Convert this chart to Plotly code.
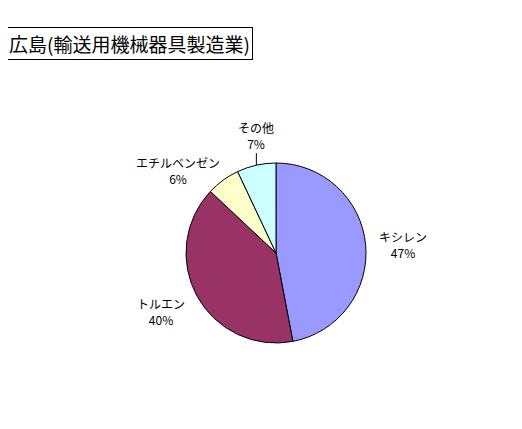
import math
import plotly.graph_objects as go

labels = ["キシレン", "トルエン", "エチルベンゼン", "その他"]
values = [47, 40, 6, 7]
colors = ["#9999FF", "#993366", "#FFFFCC", "#CCFFFF"]
title_text = "広島(輸送用機械器具製造業)"

W, H = 522, 429
OFF = 8  # page body margin
cx, cy, r = 276 - OFF, 253 - OFF, 90

def px(x):
    return (x - OFF) / W

def py(y):
    return 1 - (y - OFF) / H

fig = go.Figure(go.Pie(
    labels=labels, values=values, sort=False, direction="clockwise", rotation=0,
    marker=dict(colors=colors, line=dict(color="black", width=1)),
    textinfo="none",
    domain=dict(x=[(cx - r) / W, (cx + r) / W], y=[1 - (cy + r) / H, 1 - (cy - r) / H]),
    showlegend=False, hoverinfo="skip",
))

total = sum(values)
pcts = [round(v / total * 100) for v in values]
# label centre positions in page pixels
label_pos = [(403, 245), (161, 311), (178, 170)]
font = dict(family="Noto Sans CJK JP", size=12, color="black")
for i, (lx, ly) in enumerate(label_pos):
    fig.add_annotation(text=f"{labels[i]}<br>{pcts[i]}%", xref="paper", yref="paper",
                       x=px(lx), y=py(ly), xanchor="center", yanchor="middle",
                       showarrow=False, font=font)

# その他: leader line to slice midpoint on the edge
cum = sum(values[:3]) + values[3] / 2
ang = 2 * math.pi * cum / total
ex = cx + OFF + r * math.sin(ang)
ey = cy + OFF - r * math.cos(ang)
fig.add_annotation(text=f"{labels[3]}<br>{pcts[3]}%", xref="paper", yref="paper",
                   x=px(ex), y=py(ey), ax=0, ay=-30, showarrow=True,
                   arrowhead=0, arrowwidth=1, arrowcolor="black", standoff=0,
                   font=font)

fig.add_annotation(
    text=title_text, xref="paper", yref="paper", x=px(6), y=py(27),
    xanchor="left", yanchor="top", showarrow=False,
    font=dict(family="Noto Sans CJK JP", size=19, color="black"),
    bordercolor="black", borderwidth=1, borderpad=2, bgcolor="white",
)
fig.update_layout(width=W, height=H, margin=dict(l=0, r=0, t=0, b=0),
                  paper_bgcolor="white", plot_bgcolor="white")
fig.write_html("out.html")
